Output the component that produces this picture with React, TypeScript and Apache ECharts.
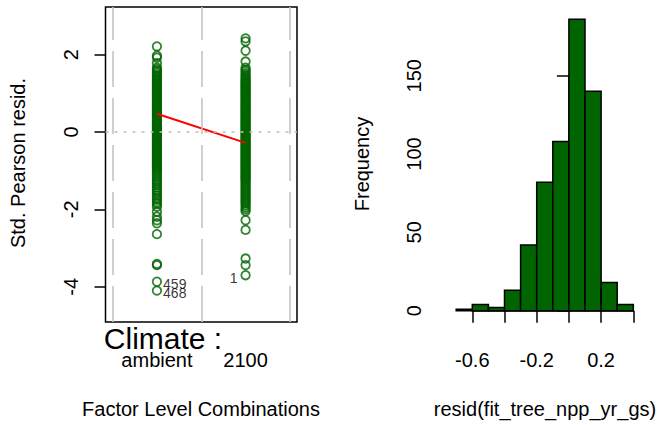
import React, { useEffect, useRef } from "react";
import * as echarts from "echarts";

// ---------- Left panel: Std. Pearson residuals vs factor levels ----------
const factorName = "Climate :";
const levels = ["ambient", "2100"];
const ambientResid = [
  2.21, 1.97, 1.92, 1.78, 1.66, 1.62, 1.57, 1.53, 1.48, 1.44, 1.41, 1.37, 1.34, 1.31,
  1.27, 1.24, 1.21, 1.18, 1.15, 1.12, 1.09, 1.06, 1.03, 1.0, 0.97, 0.94, 0.91, 0.88,
  0.85, 0.82, 0.79, 0.76, 0.73, 0.7, 0.67, 0.64, 0.61, 0.58, 0.55, 0.52, 0.49, 0.46,
  0.43, 0.4, 0.37, 0.34, 0.31, 0.28, 0.25, 0.22, 0.19, 0.16, 0.13, 0.1, 0.07, 0.04,
  0.01, -0.02, -0.05, -0.08, -0.11, -0.14, -0.17, -0.2, -0.23, -0.26, -0.29, -0.32,
  -0.35, -0.38, -0.41, -0.44, -0.47, -0.5, -0.53, -0.56, -0.59, -0.62, -0.65, -0.68,
  -0.71, -0.74, -0.77, -0.8, -0.83, -0.86, -0.89, -0.92, -0.95, -0.99, -1.03, -1.07,
  -1.12, -1.17, -1.22, -1.27, -1.32, -1.37, -1.43, -1.48, -1.53, -1.58, -1.64, -1.7,
  -1.75, -1.81, -1.86, -1.93, -2.06, -2.19, -2.28, -2.36, -2.64, -3.41, -3.44, -3.87,
  -4.1,
];
const climate2100Resid = [
  2.42, 2.34, 2.1, 1.82, 1.66, 1.61, 1.57, 1.52, 1.48, 1.44, 1.4, 1.36, 1.33, 1.3,
  1.27, 1.24, 1.21, 1.18, 1.15, 1.12, 1.09, 1.06, 1.03, 1.0, 0.97, 0.94, 0.91, 0.88,
  0.85, 0.82, 0.79, 0.76, 0.73, 0.7, 0.67, 0.64, 0.61, 0.58, 0.55, 0.52, 0.49, 0.46,
  0.43, 0.4, 0.37, 0.34, 0.31, 0.28, 0.25, 0.22, 0.19, 0.16, 0.13, 0.1, 0.07, 0.04,
  0.01, -0.02, -0.05, -0.08, -0.11, -0.14, -0.17, -0.2, -0.23, -0.26, -0.29, -0.32,
  -0.35, -0.38, -0.41, -0.44, -0.47, -0.5, -0.53, -0.56, -0.59, -0.62, -0.65, -0.68,
  -0.71, -0.74, -0.77, -0.8, -0.83, -0.86, -0.89, -0.92, -0.95, -0.98, -1.01, -1.04,
  -1.07, -1.1, -1.13, -1.16, -1.19, -1.22, -1.25, -1.29, -1.33, -1.37, -1.41, -1.45,
  -1.49, -1.53, -1.57, -1.61, -1.65, -1.69, -1.73, -1.77, -1.81, -1.85, -1.9, -1.95,
  -2.0, -2.05, -2.28, -2.53, -3.27, -3.44, -3.7,
];
const levelMeans = [0.47, -0.28];
const labeledObs = [
  { level: 1, value: -3.87, id: "459", side: "right" },
  { level: 1, value: -4.1, id: "468", side: "right" },
  { level: 2, value: -3.7, id: "1", side: "left" },
];
const levelBoundaries = [0.5, 1.5, 2.5];
const stdTicks = [-4, -2, 0, 2];
const levelTicks = [1, 2];

// ---------- Right panel: histogram of residuals ----------
const binStarts = [-0.7, -0.6, -0.5, -0.4, -0.3, -0.2, -0.1, 0.0, 0.1, 0.2, 0.3];
const binWidth = 0.1;
const binCounts = [1, 4, 2, 13, 42, 82, 108, 186, 140, 18, 4];
const residTicks = [-0.6, -0.4, -0.2, 0, 0.2, 0.4];
const residTickLabels = [-0.6, -0.2, 0.2];

const FONT = "Liberation Sans, Arial, Helvetica, sans-serif";
const GREEN = "#006400";

function pointsFor(level: number, values: number[]) {
  return values.map((v) => {
    const lab = labeledObs.find((o) => o.level === level && o.value === v);
    if (!lab) return [level, v];
    return {
      value: [level, v],
      label: {
        show: true,
        formatter: lab.id,
        position: lab.side,
        distance: lab.side === "right" ? 1 : 3,
        offset: [0, lab.side === "right" ? 2 : 3],
        fontSize: 14,
        color: "#000",
        fontFamily: FONT,
      },
    };
  });
}

export default function App() {
  const ref = useRef<HTMLDivElement>(null);
  useEffect(() => {
    if (!ref.current) return;
    const chart = echarts.init(ref.current, undefined, { renderer: "svg" });
    const scatterCommon = {
      type: "scatter",
      xAxisIndex: 0,
      yAxisIndex: 0,
      symbol: "circle",
      symbolSize: 8.5,
      itemStyle: { color: "rgba(0,0,0,0)", borderColor: GREEN, borderWidth: 1.8 },
      z: 3,
      silent: true,
    };
    chart.setOption({
      animation: false,
      backgroundColor: "#fff",
      textStyle: { fontFamily: FONT },
      grid: [
        { left: 105.5, top: 7, width: 191.5, height: 315, show: true, borderColor: "#000", borderWidth: 1.5, backgroundColor: "transparent" },
        { left: 472.3, top: 75.7, width: 161, height: 235 },
      ],
      xAxis: [
        {
          type: "value",
          gridIndex: 0,
          min: 0.42,
          max: 2.58,
          axisLine: { show: false },
          splitLine: { show: false },
          axisTick: { show: true, customValues: levelTicks, length: 12, lineStyle: { color: "#000", width: 1.5 } },
          axisLabel: {
            customValues: levelTicks,
            formatter: (v: number) => levels[Math.round(v) - 1] ?? "",
            margin: 28,
            fontSize: 20,
            color: "#000",
            fontFamily: FONT,
          },
        },
        {
          type: "value",
          gridIndex: 1,
          min: -0.6,
          max: 0.4,
          offset: 12.6,
          axisLine: { show: true, lineStyle: { color: "#000", width: 1.5 } },
          splitLine: { show: false },
          axisTick: { show: true, customValues: residTicks, length: 12, lineStyle: { color: "#000", width: 1.5 } },
          axisLabel: {
            customValues: residTickLabels,
            formatter: (v: number) => String(Math.round(v * 10) / 10),
            margin: 26.5,
            fontSize: 20,
            color: "#000",
            fontFamily: FONT,
          },
        },
      ],
      yAxis: [
        {
          type: "value",
          gridIndex: 0,
          min: -4.91,
          max: 3.23,
          axisLine: { show: false },
          splitLine: { show: false },
          axisTick: { show: true, customValues: stdTicks, length: 11, lineStyle: { color: "#000", width: 1.5 } },
          axisLabel: {
            customValues: stdTicks,
            rotate: 90,
            margin: 25,
            fontSize: 20,
            color: "#000",
            fontFamily: FONT,
          },
        },
        {
          type: "value",
          gridIndex: 1,
          min: 0,
          max: 150,
          interval: 50,
          offset: 23.3,
          axisLine: { show: true, lineStyle: { color: "#000", width: 1.5 } },
          splitLine: { show: false },
          axisTick: { show: true, length: 12, lineStyle: { color: "#000", width: 1.5 } },
          axisLabel: { rotate: 90, margin: 25, fontSize: 20, color: "#000", fontFamily: FONT },
        },
      ],
      series: [
        {
          type: "line",
          xAxisIndex: 0,
          yAxisIndex: 0,
          data: [],
          z: 1,
          silent: true,
          markLine: {
            silent: true,
            symbol: "none",
            label: { show: false },
            data: [
              ...levelBoundaries.map((b) => ({
                xAxis: b,
                lineStyle: { color: "#c4c4c4", width: 1.6, type: [36, 11] },
              })),
              { yAxis: 0, lineStyle: { color: "#bdbdbd", width: 1.5, type: [3, 6] } },
            ],
          },
        },
        { ...scatterCommon, name: levels[0], data: pointsFor(1, ambientResid) },
        { ...scatterCommon, name: levels[1], data: pointsFor(2, climate2100Resid) },
        {
          type: "line",
          xAxisIndex: 0,
          yAxisIndex: 0,
          data: levelMeans.map((m, i) => [i + 1, m]),
          symbol: "none",
          lineStyle: { color: "#ff0000", width: 2 },
          z: 4,
          silent: true,
        },
        {
          type: "custom",
          xAxisIndex: 1,
          yAxisIndex: 1,
          clip: false,
          silent: true,
          data: binStarts.map((s, i) => [s, s + binWidth, binCounts[i]]),
          encode: { x: [0, 1], y: 2 },
          renderItem: (_params: any, api: any) => {
            const p0 = api.coord([api.value(0), api.value(2)]);
            const p1 = api.coord([api.value(1), 0]);
            return {
              type: "rect",
              shape: { x: p0[0], y: p0[1], width: p1[0] - p0[0], height: p1[1] - p0[1] },
              style: { fill: GREEN, stroke: "#000", lineWidth: 1.5 },
            };
          },
        },
      ],
      graphic: [
        {
          type: "text",
          x: 18,
          y: 163,
          rotation: Math.PI / 2,
          style: { text: "Std. Pearson resid.", fontSize: 20, fontFamily: FONT, fill: "#000", align: "center", verticalAlign: "middle" },
        },
        {
          type: "text",
          x: 163,
          y: 338,
          style: { text: factorName, fontSize: 30, fontFamily: FONT, fill: "#000", align: "center", verticalAlign: "middle" },
        },
        {
          type: "text",
          x: 201,
          y: 409,
          style: { text: "Factor Level Combinations", fontSize: 20, fontFamily: FONT, fill: "#000", align: "center", verticalAlign: "middle" },
        },
        {
          type: "text",
          x: 362,
          y: 164,
          rotation: Math.PI / 2,
          style: { text: "Frequency", fontSize: 20, fontFamily: FONT, fill: "#000", align: "center", verticalAlign: "middle" },
        },
        {
          type: "text",
          x: 545,
          y: 409,
          style: { text: "resid(fit_tree_npp_yr_gs)", fontSize: 20, fontFamily: FONT, fill: "#000", align: "center", verticalAlign: "middle" },
        },
      ],
    });
    return () => chart.dispose();
  }, []);
  return (
    <div
      ref={ref}
      style={{ position: "fixed", left: 0, top: 0, width: 661, height: 425, background: "#fff" }}
    />
  );
}
